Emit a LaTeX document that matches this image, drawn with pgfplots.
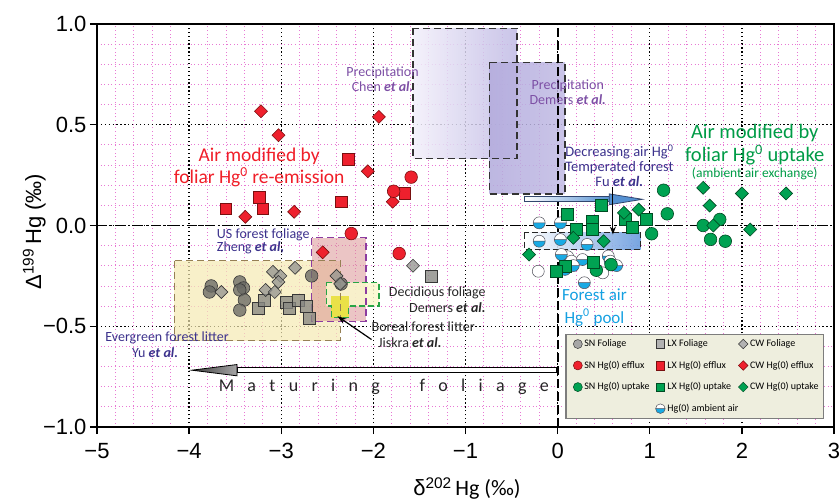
\documentclass[border=0pt]{standalone}
\usepackage{fontspec}
\setmainfont{Carlito}
\newfontfamily\arialfont{Liberation Sans}
\usepackage{pgfplots}
\pgfplotsset{compat=1.18}
\usetikzlibrary{arrows.meta}
\newcommand{\fsz}[2]{\fontsize{#1}{#2}\selectfont}
\definecolor{gcirc}{RGB}{105,105,100}
\definecolor{gsq}{RGB}{135,135,130}
\definecolor{gdia}{RGB}{150,150,145}
\definecolor{gedge}{RGB}{55,55,55}
\definecolor{rfill}{RGB}{238,32,45}
\definecolor{redge}{RGB}{120,15,15}
\definecolor{gnfill}{RGB}{0,162,82}
\definecolor{gnedge}{RGB}{0,75,35}
\definecolor{airblue}{RGB}{25,170,228}
\definecolor{airedge}{RGB}{80,80,90}
\definecolor{txtred}{RGB}{240,30,40}
\definecolor{txtgreen}{RGB}{0,155,70}
\definecolor{txtpurple}{RGB}{125,80,165}
\definecolor{txtnavy}{RGB}{60,50,140}
\definecolor{txtcyan}{RGB}{20,160,225}
\definecolor{pinkgrid}{RGB}{232,120,212}
\definecolor{lavA}{RGB}{242,239,250}
\definecolor{lavB}{RGB}{192,186,228}
\definecolor{lavC}{RGB}{178,170,220}
\definecolor{legbg}{RGB}{238,238,222}
\definecolor{leggray}{RGB}{125,125,125}
\definecolor{yelbox}{RGB}{245,233,178}
\definecolor{yeledge}{RGB}{150,128,85}
\definecolor{pinkbox}{RGB}{215,140,140}
\definecolor{purpedge}{RGB}{140,60,160}
\definecolor{decgreen}{RGB}{40,165,70}
\definecolor{decfill}{RGB}{250,248,205}
\definecolor{borealy}{RGB}{232,222,40}
\definecolor{arrowblue}{RGB}{85,145,210}
\definecolor{arrowedge}{RGB}{50,70,110}
\definecolor{boxblue}{RGB}{105,155,222}
\pgfdeclareplotmark{halfair}{%
  \pgfpathcircle{\pgfpointorigin}{\pgfplotmarksize}%
  \pgfsetfillcolor{white}\pgfusepath{fill}%
  \pgfpathmoveto{\pgfpoint{-\pgfplotmarksize}{0pt}}%
  \pgfpatharc{180}{360}{\pgfplotmarksize}%
  \pgfpathclose
  \pgfsetfillcolor{airblue}\pgfusepath{fill}%
  \pgfpathmoveto{\pgfpoint{-\pgfplotmarksize}{0pt}}%
  \pgfpathlineto{\pgfpoint{\pgfplotmarksize}{0pt}}%
  \pgfpathcircle{\pgfpointorigin}{\pgfplotmarksize}%
  \pgfusepath{stroke}%
}
\pgfplotsset{
  sncirc/.style={only marks, mark=*, mark size=6.3pt, mark options={draw=gedge, fill=gcirc, fill opacity=0.78, line width=0.6pt}},
  lxsq/.style={only marks, mark=square*, mark size=6pt, mark options={draw=gedge, fill=gsq, fill opacity=0.78, line width=0.6pt}},
  cwdia/.style={only marks, mark=square*, mark size=4.6pt, mark options={rotate=45, draw=gedge, fill=gdia, fill opacity=0.78, line width=0.6pt}},
  snred/.style={only marks, mark=*, mark size=6.3pt, mark options={draw=redge, fill=rfill, line width=0.6pt}},
  lxred/.style={only marks, mark=square*, mark size=5.8pt, mark options={draw=redge, fill=rfill, line width=0.6pt}},
  cwred/.style={only marks, mark=square*, mark size=4.6pt, mark options={rotate=45, draw=redge, fill=rfill, line width=0.6pt}},
  sngr/.style={only marks, mark=*, mark size=6.3pt, mark options={draw=gnedge, fill=gnfill, line width=0.6pt}},
  lxgr/.style={only marks, mark=square*, mark size=6pt, mark options={draw=gnedge, fill=gnfill, line width=0.6pt}},
  cwgr/.style={only marks, mark=square*, mark size=4.6pt, mark options={rotate=45, draw=gnedge, fill=gnfill, line width=0.6pt}},
  airst/.style={only marks, mark=halfair, mark size=6pt, mark options={draw=airedge, line width=0.5pt}},
}
\begin{document}
\begin{tikzpicture}
\begin{axis}[
  scale only axis, width=737pt, height=403pt,
  xmin=-5, xmax=3, ymin=-1, ymax=1,
  xtick={-5,-4,-3,-2,-1,0,1,2,3},
  xticklabels={−5,−4,−3,−2,−1,0,1,2,3},
  ytick={-1,-0.5,0,0.5,1},
  yticklabels={−1.0,−0.5,0.0,0.5,1.0},
  minor x tick num=4, minor y tick num=4,
  grid=both,
  major grid style={black, line width=1.3pt, dash pattern=on 1.3pt off 2.6pt},
  minor grid style={pinkgrid, line width=0.9pt, dash pattern=on 0.9pt off 2.7pt},
  axis line style={black, line width=1.3pt},
  major tick style={black, line width=1.3pt},
  major tick length=7pt, minor tick length=0pt,
  tick align=outside, xtick pos=bottom, ytick pos=left,
  ticklabel style={font=\arialfont\fsz{22}{24}},
  xticklabel style={yshift=-6pt},
  xlabel={{\arialfont δ\textsuperscript{202}}\,Hg (‰)},
  xlabel style={font=\fsz{22}{24}, at={(axis description cs:0.502,-0.153)}, anchor=center},
  ylabel={Δ\textsuperscript{199}\,Hg (‰)},
  ylabel style={font=\arialfont\fsz{22}{24}, at={(axis description cs:-0.085,0.485)}, anchor=center},
  legend columns=3,
  legend cell align=left,
  legend style={at={(axis description cs:0.635,0.232)}, anchor=north west, fill=legbg, draw=leggray, line width=1.6pt,
    font=\fsz{10}{11}, row sep=8.8pt, inner sep=3.5pt,
    /tikz/every even column/.append style={column sep=1pt}},
  legend image post style={line width=0.5pt},
]
% ---- shaded regions ----
\shade[left color=lavA, right color=lavB, opacity=0.85] (axis cs:-1.57,0.978) rectangle (axis cs:-0.44,0.333);
\shade[left color=lavC, middle color=lavA, right color=lavB, opacity=0.85] (axis cs:-0.74,0.81) rectangle (axis cs:0.08,0.157);
\fill[yelbox, fill opacity=0.7] (axis cs:-4.16,-0.174) rectangle (axis cs:-2.36,-0.571);
\fill[pinkbox, fill opacity=0.5] (axis cs:-2.67,-0.061) rectangle (axis cs:-2.08,-0.475);
\fill[decfill, fill opacity=0.85] (axis cs:-2.51,-0.284) -- (axis cs:-1.94,-0.284) -- (axis cs:-1.94,-0.40) -- (axis cs:-2.27,-0.40) -- (axis cs:-2.27,-0.457) -- (axis cs:-2.455,-0.457) -- (axis cs:-2.455,-0.40) -- (axis cs:-2.51,-0.40) -- cycle;
\fill[borealy, fill opacity=0.8] (axis cs:-2.455,-0.35) rectangle (axis cs:-2.27,-0.457);
\shade[left color=white, middle color=white!60!boxblue, right color=boxblue, opacity=0.9] (axis cs:-0.36,-0.036) rectangle (axis cs:0.90,-0.119);
% ---- borders ----
\draw[black!80, line width=1.4pt, dash pattern=on 7pt off 4pt] (axis cs:-1.57,0.978) rectangle (axis cs:-0.44,0.333);
\draw[black!80, line width=1.4pt, dash pattern=on 7pt off 4pt] (axis cs:-0.74,0.81) rectangle (axis cs:0.08,0.157);
\draw[yeledge, line width=1.4pt, dash pattern=on 7pt off 4pt] (axis cs:-4.16,-0.174) rectangle (axis cs:-2.36,-0.571);
\draw[purpedge, line width=1.3pt, dash pattern=on 7pt off 4pt] (axis cs:-2.67,-0.061) rectangle (axis cs:-2.08,-0.475);
\draw[decgreen, line width=1.3pt, dash pattern=on 6pt off 3pt] (axis cs:-2.51,-0.284) -- (axis cs:-1.94,-0.284) -- (axis cs:-1.94,-0.40) -- (axis cs:-2.27,-0.40) -- (axis cs:-2.27,-0.457) -- (axis cs:-2.455,-0.457) -- (axis cs:-2.455,-0.40) -- (axis cs:-2.51,-0.40) -- cycle;
\draw[black!85, line width=1.3pt, dash pattern=on 6pt off 3pt] (axis cs:-0.36,-0.036) rectangle (axis cs:0.90,-0.119);
% ---- zero lines ----
\draw[black, line width=1.6pt, dash pattern=on 10pt off 3pt on 2pt off 3pt] (axis cs:-5,0) -- (axis cs:3,0);
\draw[black, line width=2pt, dash pattern=on 9pt off 4pt] (axis cs:0,-1) -- (axis cs:0,1);
% ---- arrows ----
\filldraw[fill=white, draw=black, line width=1pt] (axis cs:-3.48,-0.707) rectangle (axis cs:0,-0.729);
\shadedraw[left color=black!75, right color=black!35, draw=black, line width=0.8pt] (axis cs:-3.97,-0.718) -- (axis cs:-3.48,-0.690) -- (axis cs:-3.48,-0.746) -- cycle;
\draw[black, line width=3pt] (axis cs:0,-0.702) -- (axis cs:0,-0.734);
\shadedraw[left color=white, right color=arrowblue, draw=arrowedge, line width=0.8pt] (axis cs:-0.36,0.118) rectangle (axis cs:0.57,0.142);
\filldraw[fill=arrowblue, draw=arrowedge, line width=0.8pt] (axis cs:0.56,0.157) -- (axis cs:0.92,0.13) -- (axis cs:0.56,0.103) -- cycle;
% ---- data ----
\addplot[sncirc, forget plot] coordinates {(-3.76,-0.30) (-3.78,-0.33) (-3.45,-0.28) (-3.41,-0.31) (-3.45,-0.32) (-3.40,-0.37) (-3.45,-0.42) (-2.67,-0.25) (-2.35,-0.29)};
\addplot[lxsq, forget plot] coordinates {(-3.25,-0.41) (-3.18,-0.37) (-2.95,-0.38) (-2.91,-0.41) (-2.82,-0.37) (-2.73,-0.40) (-2.70,-0.46) (-1.37,-0.25)};
\addplot[cwdia, forget plot] coordinates {(-3.65,-0.33) (-3.09,-0.23) (-2.85,-0.21) (-3.01,-0.25) (-3.03,-0.28) (-3.17,-0.32) (-3.07,-0.33) (-2.40,-0.25) (-2.36,-0.29) (-1.57,-0.20)};
\addplot[cwred, forget plot] coordinates {(-3.22,0.567) (-1.94,0.539) (-3.03,0.448) (-2.06,0.269) (-1.79,0.118) (-3.39,0.043) (-2.86,0.068) (-2.55,-0.133)};
\addplot[lxred, forget plot] coordinates {(-2.27,0.328) (-3.24,0.140) (-3.60,0.083) (-3.20,0.083) (-2.35,0.118) (-1.66,0.159)};
\addplot[snred, forget plot] coordinates {(-1.59,0.240) (-1.78,0.170) (-2.24,-0.040) (-1.72,-0.139)};
\addplot[airst, forget plot] coordinates {(-0.20,0.013) (0.03,0.013) (-0.20,-0.078) (0.03,-0.07) (0.32,-0.094) (0.11,-0.155) (0.04,-0.144) (0.15,-0.177) (0.27,-0.169) (0.55,-0.152) (0.57,-0.177) (0.64,-0.199) (0.17,-0.199) (0.08,-0.218) (0.29,-0.284)};
\addplot[only marks, mark=*, mark size=6pt, mark options={draw=airedge, fill=white, line width=0.5pt}, forget plot] coordinates {(-0.21,-0.227) (0.49,-0.235)};
\addplot[sngr, forget plot] coordinates {(1.15,0.175) (1.19,0.058) (1.58,0.0) (1.76,0.030) (1.66,-0.069) (1.82,-0.078) (1.02,-0.041) (0.58,-0.194) (0.42,-0.222)};
\addplot[lxgr, forget plot] coordinates {(0.47,0.099) (0.11,0.058) (0.38,0.021) (0.73,0.033) (0.81,-0.011) (0.96,0.030) (0.20,-0.020) (0.38,-0.020) (0.08,-0.202) (-0.01,-0.227) (0.39,-0.182)};
\addplot[cwgr, forget plot] coordinates {(1.58,0.187) (2.00,0.159) (2.48,0.159) (1.65,0.099) (1.69,0.0) (2.09,-0.020) (0.88,0.079) (0.72,0.063) (-0.31,-0.144) (0.17,-0.061) (0.50,-0.078)};
\draw[black, line width=1pt, -{Stealth[length=8pt,width=6pt]}] (axis cs:0.60,0.19) -- (axis cs:0.60,-0.045);
\draw[black, line width=1.2pt, -{Stealth[length=9pt,width=6pt]}] (axis cs:-2.02,-0.566) -- (axis cs:-2.39,-0.45);
% ---- annotations ----
\node[text=txtpurple, font=\fsz{14}{15}, align=center] at (axis cs:-1.90,0.725) {Precipitation\\Chen \textbf{\textit{et al.}}};
\node[text=txtpurple, font=\fsz{14}{15}, align=center] at (axis cs:0.11,0.66) {Precipitation\\Demers \textbf{\textit{et al.}}};
\node[text=txtnavy, font=\fsz{14.5}{15}, align=center] at (axis cs:0.67,0.298) {Decreasing air Hg\textsuperscript{0}\\Temperated forest\\Fu \textbf{\textit{et al.}}};
\node[text=txtgreen, font=\fsz{20.5}{21}, inner sep=0pt] at (axis cs:2.14,0.46) {Air modified by};
\node[text=txtgreen, font=\fsz{20.5}{21}, inner sep=0pt] at (axis cs:2.14,0.35) {foliar Hg\textsuperscript{0} uptake};
\node[text=txtgreen, font=\fsz{13.5}{14}, inner sep=0pt] at (axis cs:2.14,0.258) {(ambient air exchange)};
\node[text=txtred, font=\fsz{19.5}{20}, inner sep=0pt] at (axis cs:-3.24,0.345) {Air modified by};
\node[text=txtred, font=\fsz{19.5}{20}, inner sep=0pt] at (axis cs:-3.24,0.24) {foliar Hg\textsuperscript{0} re-emission};
\node[text=txtnavy, font=\fsz{14}{15}, anchor=west, inner sep=0pt] at (axis cs:-3.70,-0.045) {US forest foliage};
\node[text=txtnavy, font=\fsz{14}{15}, anchor=west, inner sep=0pt] at (axis cs:-3.70,-0.11) {Zheng \textbf{\textit{et al,}}};
\node[text=txtnavy, font=\fsz{14}{15}] at (axis cs:-4.24,-0.557) {Evergreen forest litter};
\node[text=txtnavy, font=\fsz{14}{15}] at (axis cs:-4.37,-0.63) {Yu \textbf{\textit{et al.}}};
\node[text=black!85, font=\fsz{14}{15}, anchor=east, inner sep=0pt] at (axis cs:-0.78,-0.333) {Decidious foliage};
\node[text=black!85, font=\fsz{14}{15}, anchor=east, inner sep=0pt] at (axis cs:-0.78,-0.407) {Demers \textbf{\textit{et al.}}};
\node[text=black!85, font=\fsz{14}{15}, anchor=west, inner sep=0pt] at (axis cs:-2.02,-0.50) {Boreal forest litter};
\node[text=black!85, font=\fsz{14}{15}, anchor=west, inner sep=0pt] at (axis cs:-1.95,-0.58) {Jiskra \textbf{\textit{et al.}}};
\node[text=txtcyan, font=\fsz{17}{18}] at (axis cs:0.40,-0.342) {Forest air};
\node[text=txtcyan, font=\fsz{17}{18}] at (axis cs:0.40,-0.457) {Hg\textsuperscript{0} pool};
\node[anchor=west, inner sep=0pt, font=\fsz{18}{18}, text=black!85] at (axis cs:-3.68,-0.80) {\hbox to 330pt{M\hfil a\hfil t\hfil u\hfil r\hfil i\hfil n\hfil g\hfil\hfil\hfil f\hfil o\hfil l\hfil i\hfil a\hfil g\hfil e}};
% ---- legend ----
\addlegendimage{only marks, mark=*, mark size=4.5pt, mark options={draw=gedge, fill=black!35}}
\addlegendentry{\makebox[68pt][l]{SN Foliage}}
\addlegendimage{only marks, mark=square*, mark size=4.3pt, mark options={draw=gedge, fill=black!30}}
\addlegendentry{\makebox[68pt][l]{LX Foliage}}
\addlegendimage{only marks, mark=square*, mark size=3.4pt, mark options={rotate=45, draw=gedge, fill=black!30}}
\addlegendentry{\makebox[68pt][l]{CW Foliage}}
\addlegendimage{only marks, mark=*, mark size=4.5pt, mark options={draw=redge, fill=rfill}}
\addlegendentry{\makebox[68pt][l]{SN Hg(0) efflux}}
\addlegendimage{only marks, mark=square*, mark size=4.3pt, mark options={draw=redge, fill=rfill}}
\addlegendentry{\makebox[68pt][l]{LX Hg(0) efflux}}
\addlegendimage{only marks, mark=square*, mark size=3.4pt, mark options={rotate=45, draw=redge, fill=rfill}}
\addlegendentry{\makebox[68pt][l]{CW Hg(0) efflux}}
\addlegendimage{only marks, mark=*, mark size=4.5pt, mark options={draw=gnedge, fill=gnfill}}
\addlegendentry{\makebox[68pt][l]{SN Hg(0) uptake}}
\addlegendimage{only marks, mark=square*, mark size=4.3pt, mark options={draw=gnedge, fill=gnfill}}
\addlegendentry{\makebox[68pt][l]{LX Hg(0) uptake}}
\addlegendimage{only marks, mark=square*, mark size=3.4pt, mark options={rotate=45, draw=gnedge, fill=gnfill}}
\addlegendentry{\makebox[68pt][l]{CW Hg(0) uptake}}
\addlegendimage{empty legend}
\addlegendentry{}
\addlegendimage{only marks, mark=halfair, mark size=4.8pt, mark options={draw=airedge}}
\addlegendentry{\makebox[68pt][l]{Hg(0) ambient air}}
\end{axis}
\path (current axis.south west) +(-97pt,-74pt) coordinate (bbA);
\path (current axis.north east) +(6pt,24pt) coordinate (bbB);
\pgfresetboundingbox
\path[use as bounding box] (bbA) rectangle (bbB);
\end{tikzpicture}
\end{document}
